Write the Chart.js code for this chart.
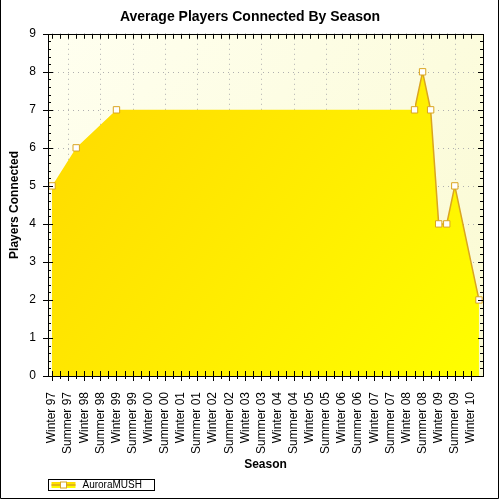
<!DOCTYPE html>
<html>
<head>
<meta charset="utf-8">
<title>Average Players Connected By Season</title>
<script src="https://cdn.jsdelivr.net/npm/chart.js@4/dist/chart.umd.min.js"></script>
<style>
    body { margin: 0; background: #fff; }
    #chart { display: block; }
</style>
</head>
<body>
<canvas id="chart" width="500" height="500"></canvas>
<script>
// season names shown on the x axis (one per half year)
const seasonLabels = [
    "Winter 97", "Summer 97", "Winter 98", "Summer 98", "Winter 99", "Summer 99",
    "Winter 00", "Summer 00", "Winter 01", "Summer 01", "Winter 02", "Summer 02",
    "Winter 03", "Summer 03", "Winter 04", "Summer 04", "Winter 05", "Summer 05",
    "Winter 06", "Summer 06", "Winter 07", "Summer 07", "Winter 08", "Summer 08",
    "Winter 09", "Summer 09", "Winter 10"
];

// position of each sample, in seasons from Winter 97
const samplePositions = [0, 1.5, 4, 22.5, 23, 23.5, 24, 24.5, 25, 26.5];
const playersConnected = [5, 6, 7, 7, 8, 7, 4, 4, 5, 2];

const yTicks = [0, 1, 2, 3, 4, 5, 6, 7, 8, 9];
const gridSeasons = [1, 3, 5, 7, 9, 11, 13, 15, 17, 19, 21, 23, 25];

const FONT = 'Arial, "Liberation Sans", sans-serif';
const lineColor = "#DAA520";

// fondo del area, grid punteado, marcas de los ejes, marco, leyenda y borde
const zedPlugin = {
    id: "zedLook",
    beforeDraw(chart) {
        const { ctx, chartArea: a } = chart;
        const g = ctx.createLinearGradient(a.left, a.top, a.right, a.bottom);
        g.addColorStop(0, "#FFFFF0");
        g.addColorStop(1, "#FAFAD2");
        ctx.save();
        ctx.fillStyle = g;
        ctx.fillRect(a.left, a.top, a.right - a.left, a.bottom - a.top);
        ctx.restore();
    },
    beforeDatasetsDraw(chart) {
        const { ctx, chartArea: a, scales } = chart;
        ctx.save();
        ctx.strokeStyle = "#B0B0B0";
        ctx.lineWidth = 1;
        ctx.setLineDash([1, 4]);
        yTicks.slice(1, -1).forEach(v => {
            const y = Math.round(scales.y.getPixelForValue(v)) + 0.5;
            ctx.beginPath();
            ctx.moveTo(a.left, y);
            ctx.lineTo(a.right, y);
            ctx.stroke();
        });
        gridSeasons.forEach(v => {
            const x = Math.round(scales.x.getPixelForValue(v)) + 0.5;
            ctx.beginPath();
            ctx.moveTo(x, a.top);
            ctx.lineTo(x, a.bottom);
            ctx.stroke();
        });
        ctx.restore();
    },
    afterDraw(chart) {
        const { ctx, chartArea: a, scales } = chart;
        ctx.save();
        ctx.strokeStyle = "#000";
        ctx.lineWidth = 1;
        ctx.beginPath();
        // marcas del eje x (abajo y arriba)
        scales.x.ticks.forEach(t => {
            const x = Math.round(scales.x.getPixelForValue(t.value)) + 0.5;
            const major = Number.isInteger(t.value);
            ctx.moveTo(x, a.bottom + (major ? 5 : 3));
            ctx.lineTo(x, a.bottom - 5);
            ctx.moveTo(x, a.top);
            ctx.lineTo(x, a.top + 5);
        });
        // marcas del eje y (izquierda y derecha), menores cada 0.2
        for (let i = 0; i <= 45; i++) {
            const v = i / 5;
            const y = Math.round(scales.y.getPixelForValue(v)) + 0.5;
            const major = i % 5 === 0;
            ctx.moveTo(a.left - (major ? 5 : 0), y);
            ctx.lineTo(a.left + (major ? 5 : 3), y);
            ctx.moveTo(a.right, y);
            ctx.lineTo(a.right - (major ? 5 : 3), y);
        }
        ctx.stroke();
        ctx.strokeRect(Math.round(a.left) + 0.5, Math.round(a.top) + 0.5,
            Math.round(a.right - a.left), Math.round(a.bottom - a.top));

        // leyenda con caja
        const ds = chart.data.datasets[0];
        const lx = Math.round(a.left) + 0.5;
        const ly = chart.height - 20.5;
        ctx.strokeRect(lx, ly, 106, 11);
        const sg = ctx.createLinearGradient(0, ly + 2, 0, ly + 8);
        sg.addColorStop(0, "#FFD700");
        sg.addColorStop(1, "#FFFF00");
        ctx.fillStyle = sg;
        ctx.fillRect(lx + 3, ly + 2.5, 24, 6);
        ctx.strokeStyle = lineColor;
        ctx.lineWidth = 1.5;
        ctx.beginPath();
        ctx.moveTo(lx + 3, ly + 5.5);
        ctx.lineTo(lx + 27, ly + 5.5);
        ctx.stroke();
        ctx.lineWidth = 1;
        ctx.fillStyle = "#fff";
        ctx.fillRect(lx + 12, ly + 2.5, 6, 6);
        ctx.strokeRect(lx + 12, ly + 2.5, 6, 6);
        ctx.fillStyle = "#000";
        ctx.font = "10px " + FONT;
        ctx.textBaseline = "middle";
        ctx.fillText(ds.label, lx + 34, ly + 6);

        // borde exterior
        ctx.strokeStyle = "#000";
        ctx.beginPath();
        ctx.moveTo(0.5, 0);
        ctx.lineTo(0.5, 498.5);
        ctx.lineTo(498.5, 498.5);
        ctx.lineTo(498.5, 0);
        ctx.stroke();
        ctx.restore();
    }
};

new Chart(document.getElementById("chart"), {
    type: "line",
    data: {
        datasets: [{
            label: "AuroraMUSH",
            data: samplePositions.map((x, i) => ({ x, y: playersConnected[i] })),
            fill: "origin",
            backgroundColor: context => {
                const a = context.chart.chartArea;
                if (!a) return "#FFE000";
                const g = context.chart.ctx.createLinearGradient(a.left, a.top, a.right, a.bottom);
                g.addColorStop(0, "#FFD700");
                g.addColorStop(1, "#FFFF00");
                return g;
            },
            // la linea solo se nota a partir del cuarto punto
            borderColor: context => {
                const chart = context.chart;
                const a = chart.chartArea;
                if (!a || !chart.scales.x) return lineColor;
                const xCorte = chart.scales.x.getPixelForValue(samplePositions[3]);
                const f = Math.min(Math.max((xCorte - a.left) / (a.right - a.left), 0), 1);
                const g = chart.ctx.createLinearGradient(a.left, 0, a.right, 0);
                g.addColorStop(0, "rgba(218,165,32,0)");
                g.addColorStop(f, "rgba(218,165,32,0)");
                g.addColorStop(f, lineColor);
                g.addColorStop(1, lineColor);
                return g;
            },
            borderWidth: 1.5,
            tension: 0,
            pointStyle: "rect",
            pointRadius: 4.5,
            pointBackgroundColor: "#FFFFFF",
            pointBorderColor: lineColor,
            pointBorderWidth: 1,
            clip: false
        }]
    },
    options: {
        responsive: false,
        devicePixelRatio: 1,
        animation: false,
        layout: { padding: { left: 0, right: 0, top: 0, bottom: 24 } },
        plugins: {
            legend: { display: false },
            tooltip: { enabled: false },
            title: {
                display: true,
                text: "Average Players Connected By Season",
                color: "#000",
                font: { family: FONT, size: 14, weight: "bold" },
                padding: { top: 9, bottom: 8 }
            }
        },
        scales: {
            x: {
                type: "linear",
                min: -0.25,
                max: 26.75,
                afterBuildTicks: scale => {
                    scale.ticks = [];
                    seasonLabels.forEach((_, i) => {
                        scale.ticks.push({ value: i });
                        if (i < seasonLabels.length - 1) scale.ticks.push({ value: i + 0.5 });
                    });
                },
                afterFit: scale => {
                    scale.height = 100;
                    scale.paddingLeft = 0;
                    scale.paddingRight = 0;
                },
                grid: { display: false, drawTicks: false },
                border: { display: false },
                ticks: {
                    autoSkip: false,
                    minRotation: 90,
                    maxRotation: 90,
                    padding: 16,
                    color: "#000",
                    font: { family: FONT, size: 12 },
                    callback: v => Number.isInteger(v) ? seasonLabels[v] : ""
                },
                title: {
                    display: true,
                    text: "Season",
                    color: "#000",
                    font: { family: FONT, size: 12, weight: "bold" },
                    padding: { top: 4, bottom: 4 }
                }
            },
            y: {
                min: 0,
                max: 9,
                afterFit: scale => { scale.width = 48; },
                grid: { display: false, drawTicks: false },
                border: { display: false },
                ticks: {
                    stepSize: 1,
                    padding: 12,
                    color: "#000",
                    font: { family: FONT, size: 12 }
                },
                title: {
                    display: true,
                    text: "Players Connected",
                    color: "#000",
                    font: { family: FONT, size: 12, weight: "bold" },
                    padding: { top: 7, bottom: 4 }
                }
            },
            // eje vacio a la derecha, solo reserva el margen
            margenDerecho: {
                position: "right",
                display: true,
                min: 0,
                max: 9,
                afterFit: scale => { scale.width = 17; },
                grid: { display: false, drawTicks: false },
                border: { display: false },
                ticks: { display: false }
            }
        }
    },
    plugins: [zedPlugin]
});
</script>
</body>
</html>
